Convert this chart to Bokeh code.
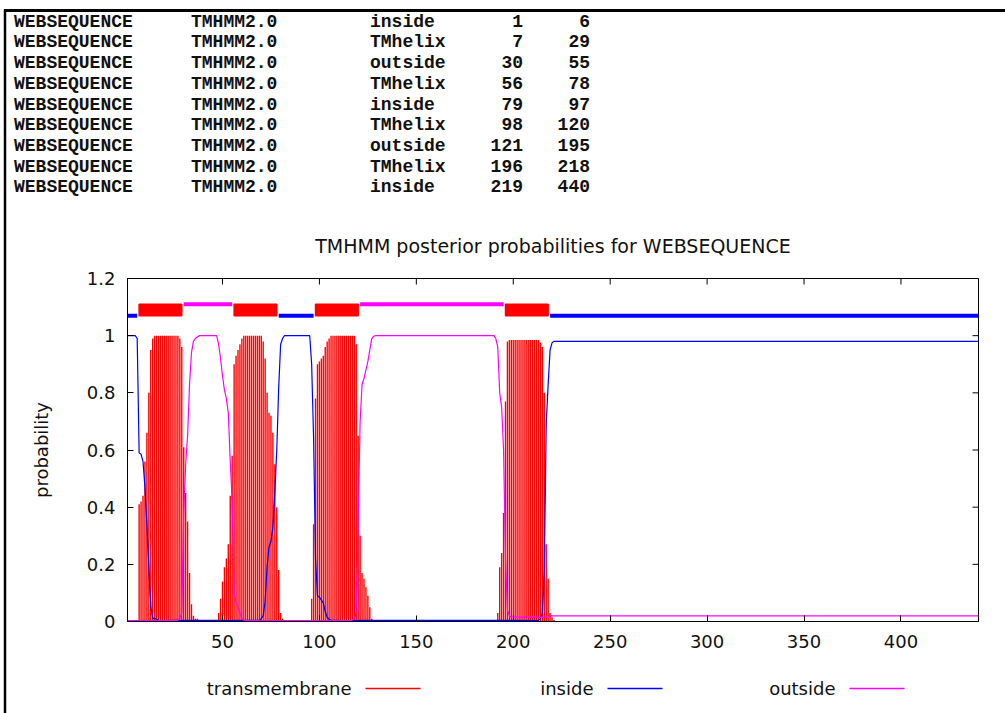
from bokeh.plotting import figure
from bokeh.layouts import row, column
from bokeh.models import Range1d, FixedTicker, ColumnDataSource, Div
from bokeh.core.properties import value
from bokeh.embed import file_html
from bokeh.resources import INLINE

# ---------------- data ----------------
seq_name = "WEBSEQUENCE"
method_name = "TMHMM2.0"
region_type = ["inside", "TMhelix", "outside", "TMhelix", "inside",
               "TMhelix", "outside", "TMhelix", "inside"]
region_start = [1, 7, 30, 56, 79, 98, 121, 196, 219]
region_end = [6, 29, 55, 78, 97, 120, 195, 218, 440]

inside_prob = ([1.0] * 5 + [0.99]
               + [0.59, 0.585, 0.56, 0.47, 0.34, 0.19, 0.05, 0.012, 0.01, 0.008]
               + [0.004] * 53
               + [0.01, 0.02, 0.07, 0.19, 0.26, 0.28, 0.33, 0.45, 0.60, 0.82, 0.97, 0.99]
               + [1.0] * 14
               + [0.90, 0.64, 0.22, 0.09, 0.085, 0.075, 0.065, 0.035, 0.015, 0.008]
               + [0.004] * 108
               + [0.01, 0.03, 0.18, 0.69, 0.83, 0.95, 0.975]
               + [0.98] * 220)

outside_prob = ([0.003] * 26
                + [0.005, 0.01, 0.03, 0.38, 0.55, 0.65, 0.83, 0.94, 0.98, 0.99, 0.995]
                + [1.0] * 10
                + [0.97, 0.92, 0.86, 0.81, 0.78, 0.73, 0.56, 0.42, 0.10, 0.07, 0.05, 0.03, 0.01, 0.005]
                + [0.003] * 55
                + [0.005, 0.01, 0.03, 0.35, 0.70, 0.83, 0.85, 0.88, 0.91, 0.95, 0.99, 0.998]
                + [1.0] * 62
                + [0.99, 0.96, 0.80, 0.75, 0.60, 0.22, 0.04, 0.02]
                + [0.015] * 20
                + [0.02] * 222)

tm_prob = ([0.0] * 6
           + [0.41, 0.42, 0.44, 0.56, 0.66, 0.80, 0.95, 0.99]
           + [1.0] * 13
           + [0.99, 0.96, 0.61, 0.45, 0.35, 0.17, 0.06, 0.02, 0.01, 0.01]
           + [0.0] * 9
           + [0.005, 0.03, 0.08, 0.14, 0.19, 0.22, 0.27, 0.44, 0.58, 0.90, 0.93, 0.95, 0.97, 0.99]
           + [1.0] * 10
           + [0.98, 0.92, 0.80, 0.73, 0.72, 0.66, 0.55, 0.40, 0.18, 0.03, 0.01]
           + [0.0] * 14
           + [0.08, 0.34, 0.78, 0.90, 0.91, 0.92, 0.93, 0.96, 0.98, 0.99]
           + [1.0] * 13
           + [0.97, 0.65, 0.30, 0.17, 0.15, 0.12, 0.09, 0.05, 0.01]
           + [0.0] * 63
           + [0.005, 0.03, 0.19, 0.24, 0.38, 0.77, 0.98]
           + [0.985] * 16
           + [0.975, 0.96, 0.80, 0.27, 0.15, 0.03, 0.015, 0.005]
           + [0.0] * 219)

residue = list(range(1, len(tm_prob) + 1))

x_ticks = [50, 100, 150, 200, 250, 300, 350, 400]
y_ticks = [0, 0.2, 0.4, 0.6, 0.8, 1.0, 1.2]
y_tick_labels = ["0", "0.2", "0.4", "0.6", "0.8", "1", "1.2"]
legend_labels = ["transmembrane", "inside", "outside"]
title_text = "TMHMM posterior probabilities for " + seq_name

# ---------------- styles / layout ----------------
RED, BLUE, MAG = "#ff0000", "#0000ff", "#ff00ff"
SANS = "DejaVu Sans"
W, H = 1005, 713
STRIP_W = 10
TOP_H = 210
MAIN_H = 447
LEG_H = H - TOP_H - MAIN_H
FRAME_L, FRAME_R, FRAME_T, FRAME_B = 127, 978, 278, 621
X_MIN, X_MAX, Y_MIN, Y_MAX = 1, 440, 0, 1.2
INSIDE_LEVEL, OUTSIDE_LEVEL = 1.07, 1.11
TICK_PX = 6


def blank(width, height, xr, yr, **kw):
    f = figure(width=width, height=height, x_range=xr, y_range=yr,
               x_axis_type=None, y_axis_type=None,
               toolbar_location=None, output_backend="svg", **kw)
    f.outline_line_color = None
    f.background_fill_color = "white"
    f.border_fill_color = "white"
    return f


# left border strip
strip = blank(STRIP_W, H, Range1d(0, STRIP_W), Range1d(H, 0), min_border=0)
strip.segment(x0=[4.5], y0=[9], x1=[4.5], y1=[H], line_width=2.5, color="black")
strip.segment(x0=[3.5], y0=[10], x1=[STRIP_W], y1=[10], line_width=3, color="black")

# table (HTML, monospace)
cell = ("position:absolute;top:{top:.1f}px;left:{left:.1f}px;width:{w}px;text-align:{al};"
        "font-family:'Liberation Mono',monospace;font-weight:bold;font-size:18px;"
        "line-height:20px;height:20px;color:#111;white-space:pre;")
parts = ['<div style="position:relative;width:%dpx;height:%dpx;background:#fff;">' % (W - STRIP_W, TOP_H),
         '<div style="position:absolute;left:0;top:8.5px;width:%dpx;height:3px;background:#000;"></div>' % (W - STRIP_W)]
for i, (kind, s, e) in enumerate(zip(region_type, region_start, region_end)):
    top_px = 21.7 + 20.7 * i - 10
    cols = [(seq_name, 14, "left"), (method_name, 191, "left"), (kind, 370, "left"),
            (str(s), 523, "right"), (str(e), 590, "right")]
    for txt, x, al in cols:
        if al == "left":
            left, w = x - STRIP_W, 150
        else:
            left, w = x - STRIP_W - 80, 80
        parts.append('<div style="%s">%s</div>' % (cell.format(top=top_px, left=left, w=w, al=al), txt))
parts.append("</div>")
table = Div(text="".join(parts), width=W - STRIP_W, height=TOP_H, margin=0)

# main chart
main = figure(width=W - STRIP_W, height=MAIN_H,
              x_range=Range1d(X_MIN, X_MAX), y_range=Range1d(Y_MIN, Y_MAX),
              min_border_left=FRAME_L - STRIP_W, min_border_right=W - FRAME_R,
              min_border_top=FRAME_T - TOP_H, min_border_bottom=TOP_H + MAIN_H - FRAME_B,
              toolbar_location=None, output_backend="svg", title=title_text)
main.grid.visible = False
main.outline_line_color = "black"
main.outline_line_width = 1
main.background_fill_color = "white"
main.border_fill_color = "white"
main.title.align = "center"
main.title.text_font = SANS
main.title.text_font_size = "19px"
main.title.text_font_style = "normal"
main.title.text_color = "#111111"
main.title.standoff = 44

src = ColumnDataSource(dict(pos=residue, tm=tm_prob, inside=inside_prob, outside=outside_prob))
main.vbar(x="pos", top="tm", bottom=0, width=0.72, source=src,
          fill_color=RED, line_color=None)
main.line("pos", "inside", source=src, color=BLUE, line_width=1.2)
main.line("pos", "outside", source=src, color=MAG, line_width=1.2)

ins_s = [s for s, t in zip(region_start, region_type) if t == "inside"]
ins_e = [e for e, t in zip(region_end, region_type) if t == "inside"]
out_s = [s for s, t in zip(region_start, region_type) if t == "outside"]
out_e = [e for e, t in zip(region_end, region_type) if t == "outside"]
tm_s = [s for s, t in zip(region_start, region_type) if t == "TMhelix"]
tm_e = [e for e, t in zip(region_end, region_type) if t == "TMhelix"]
main.segment(x0=ins_s, y0=INSIDE_LEVEL, x1=ins_e, y1=INSIDE_LEVEL, line_width=4, color=BLUE)
main.segment(x0=out_s, y0=OUTSIDE_LEVEL, x1=out_e, y1=OUTSIDE_LEVEL, line_width=4, color=MAG)
main.quad(left=tm_s, right=tm_e, bottom=INSIDE_LEVEL, top=OUTSIDE_LEVEL,
          fill_color=RED, line_color=RED, line_width=1.5)

# mirrored inward ticks on the top and right borders (gnuplot style)
dy_tick = TICK_PX * (Y_MAX - Y_MIN) / (FRAME_B - FRAME_T)
dx_tick = TICK_PX * (X_MAX - X_MIN) / (FRAME_R - FRAME_L)
main.segment(x0=x_ticks, y0=Y_MAX, x1=x_ticks, y1=Y_MAX - dy_tick, color="black", line_width=1)
main.segment(x0=X_MAX, y0=y_ticks, x1=X_MAX - dx_tick, y1=y_ticks, color="black", line_width=1)

main.xaxis.ticker = FixedTicker(ticks=x_ticks)
main.yaxis.ticker = FixedTicker(ticks=y_ticks)
main.yaxis.major_label_overrides = {t: l for t, l in zip(y_ticks, y_tick_labels)}
main.yaxis.axis_label = "probability"
main.yaxis.axis_label_text_font = SANS
main.yaxis.axis_label_text_font_size = "18px"
main.yaxis.axis_label_text_font_style = "normal"
main.yaxis.axis_label_text_color = "#111111"
main.yaxis.axis_label_standoff = 32
main.xaxis.major_label_standoff = 13
main.yaxis.major_label_standoff = 12
for ax in [main.xaxis[0], main.yaxis[0]]:
    ax.major_tick_in = TICK_PX
    ax.major_tick_out = 0
    ax.minor_tick_line_color = None
    ax.axis_line_color = "black"
    ax.major_tick_line_color = "black"
    ax.major_label_text_font = SANS
    ax.major_label_text_font_size = "18px"
    ax.major_label_text_color = "#111111"

# legend strip (its frame is aligned with the chart frame)
leg = blank(W - STRIP_W, LEG_H, Range1d(FRAME_L, FRAME_R), Range1d(H, H - LEG_H),
            min_border_left=FRAME_L - STRIP_W, min_border_right=W - FRAME_R,
            min_border_top=0, min_border_bottom=0)
leg_colors = [RED, BLUE, MAG]
leg_text_x = [351 + 242 * i for i in range(3)]
leg_src = ColumnDataSource(dict(
    tx=leg_text_x, y=[688] * 3, label=legend_labels, color=leg_colors,
    x0=[x + 14 for x in leg_text_x], x1=[x + 69 for x in leg_text_x],
))
leg.text(x="tx", y="y", text="label", source=leg_src, text_align="right",
         text_baseline="middle", text_font=value(SANS), text_font_size="18px",
         text_color="#111111")
leg.segment(x0="x0", y0="y", x1="x1", y1="y", source=leg_src, color="color", line_width=1.5)

layout = row(strip, column(table, main, leg))
open("out.html", "w").write(file_html(layout, INLINE))
